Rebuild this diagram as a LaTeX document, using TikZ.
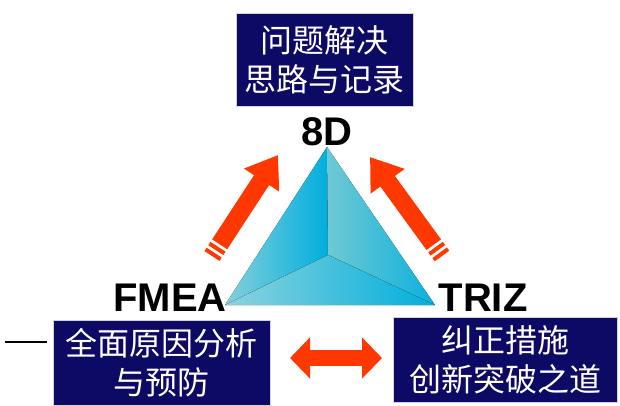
\documentclass[tikz,border=0pt]{standalone}
\usepackage{fontspec}
\setsansfont{Liberation Sans}
\newfontfamily\cjk{Noto Sans CJK SC}
\usetikzlibrary{positioning,calc,arrows.meta}
\definecolor{navy}{RGB}{12,10,100}
\definecolor{redarrow}{RGB}{255,55,0}
\definecolor{cyandeep}{RGB}{0,174,222}
\definecolor{cyanlight}{RGB}{112,200,212}

\begin{document}
\begin{tikzpicture}[x=1pt,y=-1pt,
    box/.style={draw=gray!35,fill=navy,text=white,align=center,inner sep=0pt,
      font=\cjk\fontsize{32}{39}\selectfont},
    tool/.style={font=\sffamily\bfseries\fontsize{40}{40}\selectfont,inner sep=0pt},
    fat/.style={redarrow,line width=18pt},
    headed/.style={-{Triangle[length=30pt,width=40pt]}}]
   \useasboundingbox (0,0) rectangle (620,406);

   % the three method boxes
   \node[box,minimum width=177pt,minimum height=93pt] (solve) at (324.5,59.5) {问题解决\\思路与记录};
   \node[box,minimum width=217pt,minimum height=85pt] (cause) at (161.5,362.5) {全面原因分析\\与预防};
   \node[box,minimum width=224pt,minimum height=85pt] (fix) at (505,359.5) {纠正措施\\创新突破之道};

   % pyramid corners
   \coordinate (apex) at (327,147);
   \coordinate (fl) at (225,305);
   \coordinate (fr) at (435,305);
   \coordinate (mid) at (328,255);
   \fill[left color=cyanlight!85!white,right color=cyandeep] (apex) -- (fl) -- (mid) -- cycle;
   \fill[left color=cyanlight,right color=cyandeep!90!cyanlight] (apex) -- (mid) -- (fr) -- cycle;
   \fill[left color=cyanlight!80!white,right color=cyandeep] (fl) -- (mid) -- (fr) -- cycle;

   \node[tool,above=1pt of apex] (d8) {8D};
   \node[tool] (fmea) at (170,298) {FMEA};
   \node[tool] (triz) at (483,298) {TRIZ};

   % arrows towards 8D
   \coordinate (lt) at (212,256);
   \coordinate (lh) at (278,155);
   \coordinate (rt) at (442,256);
   \coordinate (rh) at (370,157);
   \draw[fat,headed] ($(lt)!14pt!(lh)$) -- (lh);
   \draw[fat] (lt) -- ($(lt)!4pt!(lh)$) ($(lt)!7pt!(lh)$) -- ($(lt)!11pt!(lh)$);
   \draw[fat,headed] ($(rt)!14pt!(rh)$) -- (rh);
   \draw[fat] (rt) -- ($(rt)!4pt!(rh)$) ($(rt)!7pt!(rh)$) -- ($(rt)!11pt!(rh)$);

   \coordinate (dl) at (290,358);
   \coordinate (dr) at (382,358);
   \draw[redarrow,line width=16pt,{Triangle[length=20pt,width=40pt]}-{Triangle[length=20pt,width=40pt]}] (dl) -- (dr);

   \coordinate (ll) at (5,342);
   \coordinate (lr) at (47,342);
   \draw[line width=1.5pt] (ll) -- (lr);
\end{tikzpicture}
\end{document}
